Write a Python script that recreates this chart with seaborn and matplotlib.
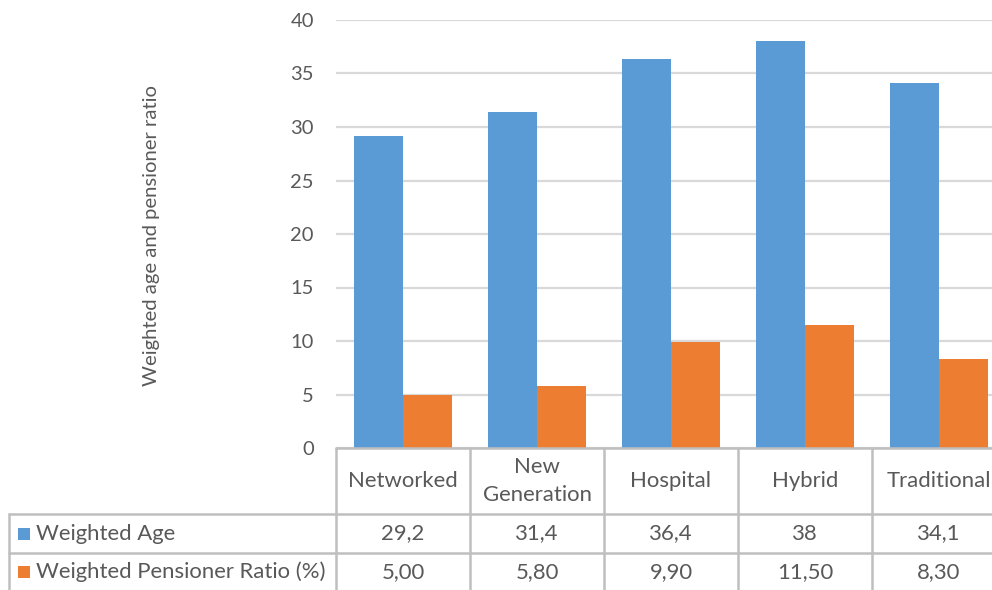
import matplotlib
matplotlib.use("Agg")
import matplotlib.pyplot as plt
import pandas as pd
import seaborn as sns

# ---- data ---------------------------------------------------------------
categories = ["Networked", "New\nGeneration", "Hospital", "Hybrid", "Traditional"]
series_names = ["Weighted Age", "Weighted Pensioner Ratio (%)"]
weighted_age = [29.2, 31.4, 36.4, 38, 34.1]
pensioner_ratio = [5.00, 5.80, 9.90, 11.50, 8.30]
y_ticks = [0, 5, 10, 15, 20, 25, 30, 35, 40]
y_label = "Weighted age and pensioner ratio"

colors = ["#5B9BD5", "#ED7D31"]
text_color = "#595959"
grid_color = "#D9D9D9"
table_line = "#BFBFBF"


def fmt_age(v):
    return f"{v:g}".replace(".", ",")


def fmt_ratio(v):
    return f"{v:.2f}".replace(".", ",")


df = pd.DataFrame({
    "category": categories * 2,
    "series": [series_names[0]] * len(categories) + [series_names[1]] * len(categories),
    "value": weighted_age + pensioner_ratio,
})

sns.set_theme(style="white")
plt.rcParams["font.family"] = ["Lato", "DejaVu Sans"]

W, H = 992, 590
fig = plt.figure(figsize=(W / 100, H / 100), dpi=100)

# plot area in pixel units (right edge runs past the canvas)
px_left, px_right, px_top, px_bottom = 336, 1006, 20, 448
ax = fig.add_axes([px_left / W, 1 - px_bottom / H,
                   (px_right - px_left) / W, (px_bottom - px_top) / H])

sns.barplot(data=df, x="category", y="value", hue="series", order=categories,
            hue_order=series_names, palette=colors, width=0.73, gap=0,
            saturation=1, edgecolor="none", linewidth=0, ax=ax, legend=False)

ax.set_xlim(-0.5, len(categories) - 0.5)
ax.set_ylim(y_ticks[0], y_ticks[-1])
ax.set_yticks(y_ticks)
ax.yaxis.grid(True, color=grid_color, linewidth=1.6)
ax.set_axisbelow(True)
ax.tick_params(axis="y", length=0, pad=16, labelsize=14.5, labelcolor=text_color)
ax.set_xticks([])
ax.set_xlabel("")
ax.set_ylabel("")
for s in ax.spines.values():
    s.set_visible(False)

fig.text(152 / W, 1 - 235 / H, y_label, rotation=90, ha="center", va="center",
         fontsize=14.6, color=text_color)

# ---- data table ---------------------------------------------------------
px_per_cat = (px_right - px_left) / len(categories)
tbl_left = 9
tax = fig.add_axes([tbl_left / W, 0, (px_right - tbl_left) / W, 1 - px_bottom / H])
x0 = -0.5 - (px_left - tbl_left) / px_per_cat
tax.set_xlim(x0, len(categories) - 0.5)
# y in pixels measured downward from the top of the table
tbl_h = H - px_bottom
tax.set_ylim(tbl_h, 0)
tax.axis("off")

row_edges = [0, 66, 105, 143]
lw = 1.8
# horizontal rules
tax.plot([-0.5, len(categories) - 0.5], [row_edges[0]] * 2, color=table_line, lw=lw, clip_on=False)
for yy in row_edges[1:]:
    tax.plot([x0, len(categories) - 0.5], [yy] * 2, color=table_line, lw=lw, clip_on=False)
# vertical rules
tax.plot([x0, x0], [row_edges[1], row_edges[-1]], color=table_line, lw=lw, clip_on=False)
for i in range(len(categories) + 1):
    tax.plot([i - 0.5] * 2, [row_edges[0], row_edges[-1]], color=table_line, lw=lw, clip_on=False)

fs = 15.9
for i, cat in enumerate(categories):
    tax.text(i, (row_edges[0] + row_edges[1]) / 2, cat, ha="center", va="center",
             fontsize=fs, color=text_color, linespacing=1.45)
    tax.text(i, (row_edges[1] + row_edges[2]) / 2, fmt_age(weighted_age[i]),
             ha="center", va="center", fontsize=fs, color=text_color)
    tax.text(i, (row_edges[2] + row_edges[3]) / 2, fmt_ratio(pensioner_ratio[i]),
             ha="center", va="center", fontsize=fs, color=text_color)

key_x = x0 + 9 / px_per_cat
key_w = 12 / px_per_cat
for r, (name, col) in enumerate(zip(series_names, colors)):
    yc = (row_edges[r + 1] + row_edges[r + 2]) / 2
    tax.add_patch(plt.Rectangle((key_x, yc - 6), key_w, 12, facecolor=col,
                                edgecolor="none", clip_on=False))
    tax.text(key_x + key_w + 6 / px_per_cat, yc, name, ha="left", va="center",
             fontsize=fs, color=text_color)

fig.savefig("out.png", dpi=100)
